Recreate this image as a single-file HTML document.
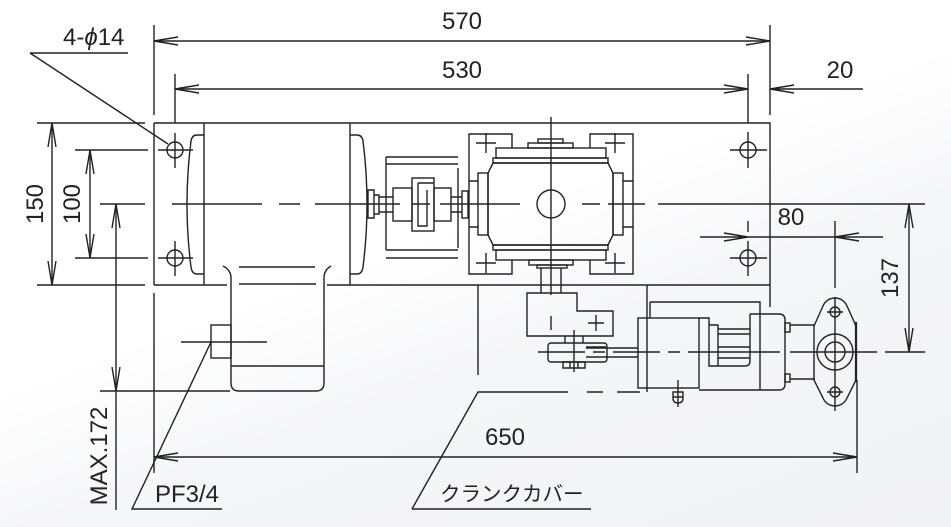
<!DOCTYPE html>
<html><head><meta charset="utf-8"><style>
html,body{margin:0;padding:0;}
body{width:951px;height:527px;overflow:hidden;background:linear-gradient(160deg,#ffffff 0%,#ffffff 45%,#f5f6f8 62%,#f1f2f4 100%);}
svg{display:block;}
text{font-family:"Liberation Sans","Noto Sans CJK JP",sans-serif;fill:#222;}
</style></head><body>
<svg width="951" height="527" viewBox="0 0 951 527" xmlns="http://www.w3.org/2000/svg">
<g stroke="#222" stroke-width="1.4" fill="none" stroke-linejoin="miter">
<!-- 570 -->
<path d="M154,41 H770 M154,25 V115 M770,25 V115"/>
<path d="M178,37 L154,41 L178,45 M746,37 L770,41 L746,45"/>
<!-- 530 -->
<path d="M175,89 H748 M175,74 V123 M748,74 V123"/>
<path d="M199,85 L175,89 L199,93 M724,85 L748,89 L724,93"/>
<!-- 20 -->
<path d="M770,89 H863 M794,85 L770,89 L794,93"/>
<!-- 4-phi14 leader -->
<path d="M30,53 H128 M30,53 L168,144"/>
<!-- 150 -->
<path d="M37,123 H145 M37,285 H145 M52,123 V285"/>
<path d="M48,147 L52,123 L56,147 M48,261 L52,285 L56,261"/>
<!-- 100 -->
<path d="M75,150 H148 M75,258 H148 M90,150 V258"/>
<path d="M86,174 L90,150 L94,174 M86,234 L90,258 L94,234"/>
<!-- MAX.172 -->
<path d="M116,204 V510 M100,391 H230"/>
<path d="M112,228 L116,204 L120,228 M112,367 L116,391 L120,367"/>
<!-- main centre line -->
<path d="M100,204 H145 M172,204 H262 M279,204 H300 M315,204 H400 M412,204 H430 M440,204 H520 M582,204 H600 M608,204 H645 M658,204 H925"/>
<!-- 137 -->
<path d="M909,204 V352"/>
<path d="M905,228 L909,204 L913,228 M905,328 L909,352 L913,328"/>
<!-- 80 -->
<path d="M700,237 H883 M724,233 L748,237 L724,241 M859,233 L835,237 L859,241"/>
<path d="M835,221 V288 M835,297 V411"/>
<!-- 650 -->
<path d="M154,457 H857 M154,293 V473 M857,380 V473"/>
<path d="M178,453 L154,457 L178,461 M833,453 L857,457 L833,461"/>

<!-- base plate -->
<path d="M154,123 H770 V307 M154,123 V285 M154,285 H227 M327,285 H770"/>
<!-- holes -->
<circle cx="175" cy="150" r="8"/><circle cx="175" cy="258" r="8"/>
<circle cx="748" cy="150" r="8"/><circle cx="748" cy="258" r="8"/>
<path d="M158,150 H193 M175,133 V168 M158,258 H193 M175,241 V276"/>
<path d="M730,150 H767 M748,132 V168 M730,258 H767 M748,221 V232 M748,241 V276"/>

<!-- motor -->
<path d="M204,123 V285 M350,123 V285"/>
<path d="M204,135 H197 Q192,135 191,141 Q183,204 191,267 Q192,274 197,274 H204"/>
<path d="M350,135 H357 Q362,135 363,141 Q371,204 363,267 Q362,274 357,274 H350"/>
<path d="M368,190 H374 V218 H368 Z M374,195 H379 V214 H374"/>
<path d="M379,197 H393 M379,212 H393"/>
<!-- terminal box -->
<path d="M223,266 Q231,270 231,278 V383 Q231,391 239,391 H316 Q324,391 324,383 V278 Q324,270 331,266"/>
<path d="M231,366 H324 M239,267 H315 M239,284 H316"/>
<rect x="211" y="325" width="20" height="33"/>
<path d="M181,342 H267"/>
<!-- PF3/4 leader -->
<path d="M211,342 L132,509 H222"/>

<!-- coupling guard -->
<path d="M386,157 H458 M386,164 H458 M386,250 H458 M386,258 H458 M386,157 V250 M458,168 V248"/>
<!-- coupling -->
<rect x="393" y="188" width="19" height="33"/>
<rect x="412" y="178" width="22" height="53"/>
<path d="M418,183 V226 H427 V190 M418,183 H434"/>
<rect x="434" y="188" width="17" height="33"/>
<path d="M451,197 H462 M451,212 H462"/>
<rect x="462" y="191" width="6" height="27"/>

<!-- gearbox mounting plate -->
<path d="M512,148 V134 H469 V274 H512 V260"/>
<path d="M590,148 V134 H633 V274 H590 V260"/>
<path d="M469,181 H478 M469,227 H478 M623,181 H633 M623,227 H633"/>
<rect x="478" y="173" width="10" height="62"/>
<rect x="613" y="173" width="10" height="62"/>
<path d="M493,163 L488,173 V235 L493,245 H608 L613,235 V173 L608,163 Z"/>
<rect x="493" y="158" width="115" height="5"/>
<rect x="496" y="148" width="110" height="10"/>
<rect x="528" y="143" width="45" height="5"/>
<rect x="538" y="139" width="25" height="4"/>
<rect x="493" y="245" width="115" height="5"/>
<rect x="496" y="250" width="110" height="10"/>
<rect x="529" y="260" width="44" height="5"/>
<rect x="537" y="265" width="30" height="3"/>
<circle cx="551" cy="204" r="14"/>
<path d="M551,117 V295 M551,316 V330"/>
<path d="M476,143 H496 M486,133 V153 M605,143 H625 M615,133 V153 M476,263 H496 M486,253 V273 M605,263 H625 M615,253 V273"/>
<path d="M541,268 V293 M561,268 V293"/>

<!-- crank -->
<path d="M527,293 H577 V311 H613 V336 H527 Z"/>
<path d="M588,323 H604 M596,315 V331"/>
<path d="M565,336 V343 M583,336 V343 M574,330 V372"/>
<rect x="548" y="343" width="59" height="19" rx="3"/>
<path d="M586,347 H606 M586,348 H638 M586,357 H638"/>
<path d="M563,362 H585 V368 H563 Z M570,362 V368 M578,362 V368"/>
<!-- motor centre line -->
<path d="M538,352 H585 M593,352 H605 M613,352 H660 M668,352 H680 M688,352 H780 M790,352 H877 M885,352 H925"/>

<!-- crank cover -->
<path d="M478,285 V375"/>
<path d="M412,509 L478,392 H568 M587,392 H603 M617,392 H640"/>
<path d="M412,509 H591"/>

<!-- gear motor -->
<path d="M647,285 V392 M650,302 V318 M650,302 H760 V390"/>
<rect x="638" y="318" width="61" height="70"/>
<path d="M699,318 H709 V325"/>
<path d="M709,325 H718 V366 M709,325 V366 H745 Q750,366 750,361 V314"/>
<path d="M718,329 H750 M718,334 H750 M718,347 H750 M718,358 H750"/>
<path d="M750,314 H779 Q785,314 785,320 V384 Q785,390 779,390 H699"/>
<rect x="785" y="323" width="5" height="9"/>
<rect x="785" y="374" width="5" height="8"/>
<path d="M790,325 H815 M790,379 H815"/>
<path d="M823,306 A13,13 0 0 1 847,306 L856,326 V380 L847,398 A13,13 0 0 1 823,398 L814,380 V326 Z"/>
<circle cx="835" cy="312" r="5"/><circle cx="835" cy="392" r="5"/>
<path d="M827,312 H843 M827,392 H843"/>
<circle cx="835" cy="352" r="18"/><circle cx="835" cy="352" r="10"/>
<path d="M856,322 V382" stroke-width="2.2"/>
<path d="M678,380 V407 M673,392 V398 Q673,403 678,403 Q683,403 683,398 V392 Z M673,397 H683"/>
</g>

<g font-size="24">
<text x="462" y="29" text-anchor="middle">570</text>
<text x="462" y="78" text-anchor="middle">530</text>
<text x="840" y="78" text-anchor="middle">20</text>
<text x="791" y="225" text-anchor="middle">80</text>
<text x="505" y="445" text-anchor="middle">650</text>
<text x="63" y="45">4-<tspan font-style="italic">ϕ</tspan>14</text>
<text transform="translate(43,204) rotate(-90)" text-anchor="middle">150</text>
<text transform="translate(80,204) rotate(-90)" text-anchor="middle">100</text>
<text transform="translate(107,456) rotate(-90)" text-anchor="middle">MAX.172</text>
<text transform="translate(898,278) rotate(-90)" text-anchor="middle">137</text>
<text x="155" y="502">PF3/4</text>
</g>
<text x="440" y="501" font-size="20.5">クランクカバー</text>
</svg>
</body></html>
